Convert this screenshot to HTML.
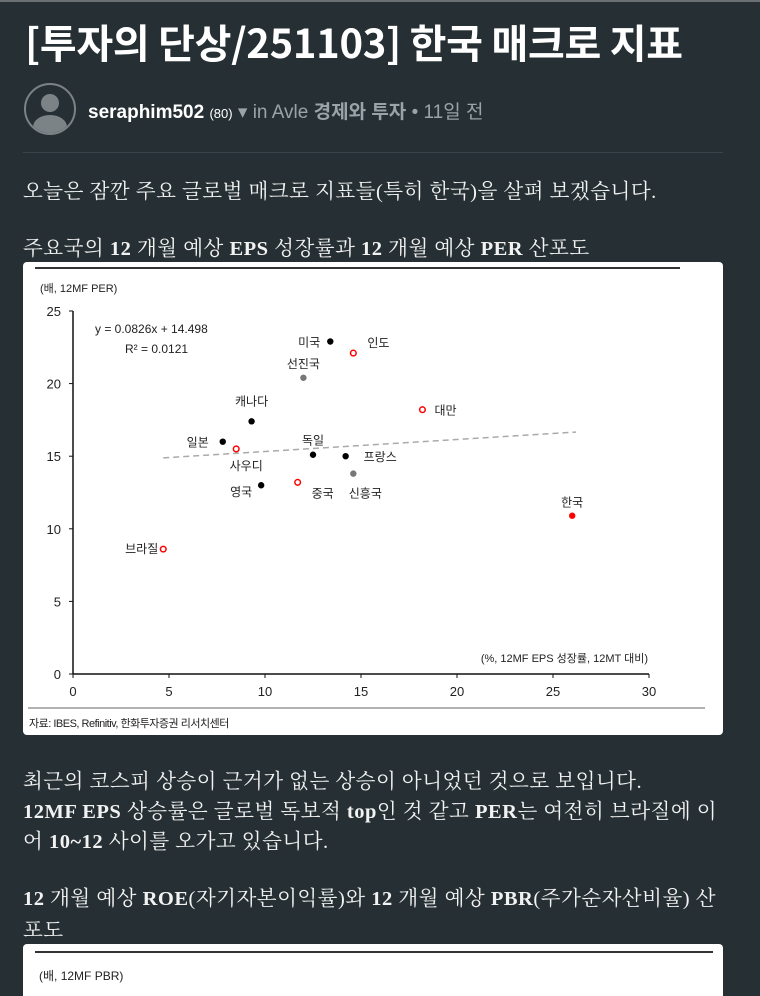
<!DOCTYPE html>
<html><head><meta charset="utf-8">
<style>
html,body{margin:0;padding:0}
html{width:760px;height:996px;overflow:hidden}
body{width:760px;height:996px;overflow:hidden;background:#263034;position:relative;font-family:"Liberation Sans","Noto Sans CJK KR",sans-serif;color:#fff;border-top:2px solid #6b7073;box-sizing:border-box}
.abs{position:absolute;white-space:nowrap}
h1{position:absolute;left:25px;top:10px;margin:0;font-size:40px;font-weight:bold;font-family:"Noto Sans CJK KR",sans-serif;letter-spacing:-0.3px}
.p{position:absolute;left:23px;font-family:"Liberation Serif","Noto Serif CJK SC",serif;font-size:20.5px;letter-spacing:0.5px;color:#f2f2f2;white-space:nowrap}
.card{position:absolute;left:23px;width:700px;background:#fff;border-radius:4px;color:#222}
svg text{font-family:"Liberation Sans","Noto Sans CJK KR",sans-serif}
</style></head><body>
<h1>[투자의 단상/251103] 한국 매크로 지표</h1>
<div class="abs" style="left:24px;top:81px;width:48px;height:48px;border:2px solid #7b8387;border-radius:50%;overflow:hidden">
 <div style="position:absolute;left:15px;top:9px;width:18px;height:18px;border-radius:50%;background:#7b8387"></div>
 <div style="position:absolute;left:7px;top:30px;width:34px;height:24px;border-radius:50% 50% 0 0;background:#7b8387"></div>
</div>
<div class="abs" style="left:88px;top:95px;font-size:19px;color:#9aa3a8">
 <b style="color:#fff">seraphim502</b> <span style="font-size:13px;color:#fff">(80)</span> ▾ in Avle <b>경제와 투자</b> • 11일 전
</div>
<div class="abs" style="left:23px;top:150px;width:700px;height:1px;background:#37444a"></div>
<div class="p" style="top:172px">오늘은 잠깐 주요 글로벌 매크로 지표들(특히 한국)을 살펴 보겠습니다.</div>
<div class="p" style="top:229px">주요국의 <b>12</b> 개월 예상 <b>EPS</b> 성장률과 <b>12</b> 개월 예상 <b>PER</b> 산포도</div>

<div class="card" style="top:260px;height:473px">
<svg id="chart" width="700" height="473"></svg>
</div>

<div class="p" style="top:762px">최근의 코스피 상승이 근거가 없는 상승이 아니었던 것으로 보입니다.</div>
<div class="p" style="top:792px"><b>12MF EPS</b> 상승률은 글로벌 독보적 <b>top</b>인 것 같고 <b>PER</b>는 여전히 브라질에 이</div>
<div class="p" style="top:822px">어 <b>10~12</b> 사이를 오가고 있습니다.</div>
<div class="p" style="top:879px"><b>12</b> 개월 예상 <b>ROE</b>(자기자본이익률)와 <b>12</b> 개월 예상 <b>PBR</b>(주가순자산비율) 산</div>
<div class="p" style="top:911px">포도</div>
<div class="card" style="top:942px;height:60px">
 <div style="position:absolute;left:12px;top:7px;width:678px;height:2px;background:#333"></div>
 <div class="abs" style="left:16px;top:23px;font-size:12px">(배, 12MF PBR)</div>
</div>

<script>
const names=["미국","인도","선진국","대만","캐나다","일본","사우디","독일","프랑스","신흥국","중국","영국","한국","브라질"];
const epsGrowth=[13.4,14.6,12.0,18.2,9.3,7.8,8.5,12.5,14.2,14.6,11.7,9.8,26.0,4.7];
const per=[22.9,22.1,20.4,18.2,17.4,16.0,15.5,15.1,15.0,13.8,13.2,13.0,10.9,8.6];
const kinds=["b","ro","g","ro","b","b","ro","b","b","g","ro","b","r","ro"];
const xTicks=[0,5,10,15,20,25,30];
const yTicks=[0,5,10,15,20,25];
const slope=0.0826, intercept=14.498;

const svg=document.getElementById('chart');
const NS='http://www.w3.org/2000/svg';
const X=v=>50+v*19.2;
const Y=v=>412-v*14.52;
function mk(t,a,txt){const e=document.createElementNS(NS,t);for(const k in a)e.setAttribute(k,a[k]);if(txt!==undefined)e.textContent=txt;svg.appendChild(e);return e;}
let e=mk('line',{x1:12,y1:6,x2:657,y2:6,stroke:'#333','stroke-width':2});


e=mk('text',{x:17,y:30,'font-size':11,fill:'#222'},'(배, 12MF PER)');


e=mk('line',{x1:X(0),y1:Y(25),x2:X(0),y2:Y(0),stroke:'#111','stroke-width':1.5});


e=mk('line',{x1:X(0),y1:Y(0),x2:X(30),y2:Y(0),stroke:'#111','stroke-width':1.5});


yTicks.forEach(t=>{
 mk('line',{x1:X(0)-4,y1:Y(t),x2:X(0),y2:Y(t),stroke:'#111'});
 e=mk('text',{x:X(0)-12,y:Y(t)+5,'font-size':13,'text-anchor':'end',fill:'#222'},t);
 
 
});
xTicks.forEach(t=>{
 mk('line',{x1:X(t),y1:Y(0),x2:X(t),y2:Y(0)+4,stroke:'#111'});
 e=mk('text',{x:X(t),y:Y(0)+22,'font-size':13,'text-anchor':'middle',fill:'#222'},t);
 
 
});
e=mk('text',{x:625,y:400,'font-size':11,'text-anchor':'end',fill:'#222'},'(%, 12MF  EPS 성장률,  12MT 대비)');


const x0=Math.min(...epsGrowth),x1=Math.max(...epsGrowth)+0.2;
e=mk('line',{x1:X(x0),y1:Y(slope*x0+intercept),x2:X(x1),y2:Y(slope*x1+intercept),stroke:'#aaa','stroke-width':1.5,'stroke-dasharray':'6,4'});


e=mk('text',{x:72,y:71,'font-size':12,fill:'#222'},'y = 0.0826x  + 14.498');


e=mk('text',{x:102,y:91,'font-size':12,fill:'#222'},'R² = 0.0121');


const lab={"미국":[-10,5,'end'],"인도":[14,-6,'start'],"선진국":[0,-10,'middle'],"대만":[12,5,'start'],"캐나다":[0,-16,'middle'],"일본":[-14,5,'end'],"사우디":[10,21,'middle'],"독일":[0,-10,'middle'],"프랑스":[18,5,'start'],"신흥국":[12,24,'middle'],"중국":[14,15,'start'],"영국":[-9,11,'end'],"한국":[0,-9,'middle'],"브라질":[-5,4,'end']};
names.forEach((n,i)=>{
 const cx=X(epsGrowth[i]),cy=Y(per[i]),k=kinds[i];
 const a={cx:cx,cy:cy,r:3.2};
 if(k==='b')a.fill='#000';else if(k==='g')a.fill='#777';else if(k==='r')a.fill='#f00';else{a.fill='#fff';a.stroke='#f00';a['stroke-width']=1.5;a.r=2.8;}
 e=mk('circle',a);
 
 
 const L=lab[n];
 e=mk('text',{x:cx+L[0],y:cy+L[1],'font-size':12,'text-anchor':L[2],fill:'#222'},n);
 
 
});
e=mk('line',{x1:5,y1:446,x2:682,y2:446,stroke:'#666','stroke-width':1});


e=mk('text',{x:6,y:465,'font-size':11,fill:'#222','letter-spacing':'-0.5'},'자료: IBES, Refinitiv, 한화투자증권 리서치센터');


</script>
</body></html>
